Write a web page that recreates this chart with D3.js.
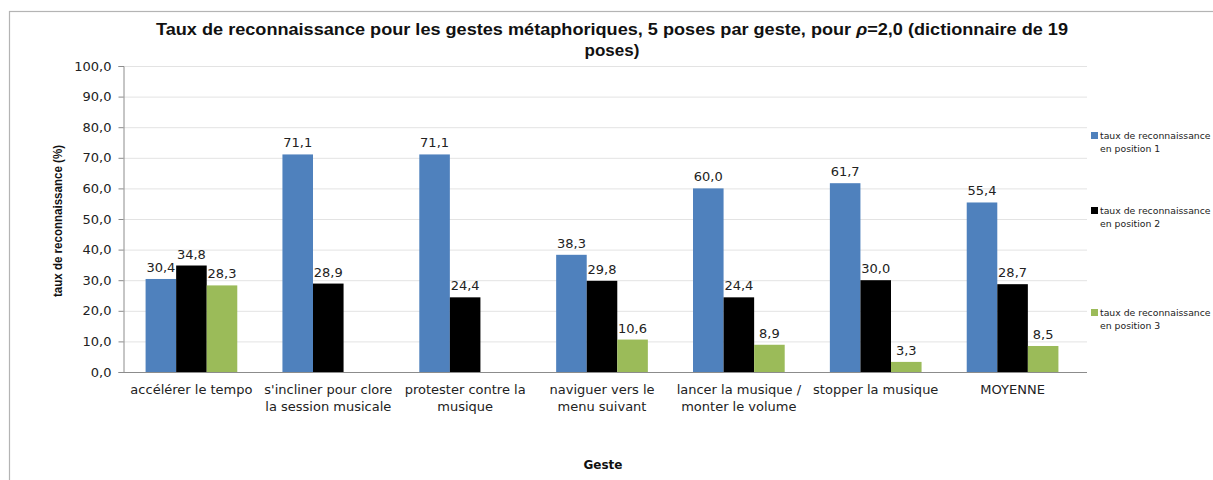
<!DOCTYPE html>
<html><head><meta charset="utf-8">
<script src="https://cdn.jsdelivr.net/npm/d3@7"></script>
<style>body{margin:0;background:#fff}svg{display:block}</style>
</head><body>
<svg id="c" width="1213" height="480"></svg>
<script>
const categories = [
  ["accélérer le tempo"],
  ["s'incliner pour clore", "la session musicale"],
  ["protester contre la", "musique"],
  ["naviguer vers le", "menu suivant"],
  ["lancer la musique /", "monter le volume"],
  ["stopper la musique"],
  ["MOYENNE"]
];
const seriesNames = ["taux de reconnaissance en position 1", "taux de reconnaissance en position 2", "taux de reconnaissance en position 3"];
const pos1 = [30.4, 71.1, 71.1, 38.3, 60.0, 61.7, 55.4];
const pos2 = [34.8, 28.9, 24.4, 29.8, 24.4, 30.0, 28.7];
const pos3 = [28.3, null, null, 10.6, 8.9, 3.3, 8.5];
const yTicks = [0,10,20,30,40,50,60,70,80,90,100];
const colors = ["#4F81BD", "#000000", "#9BBB59"];

const svg = d3.select("#c");
const fmt = v => v.toFixed(1).replace(".", ",");
const series = [pos1, pos2, pos3];

// frame
svg.append("rect").attr("x", 9.5).attr("y", 11.5).attr("width", 1300).attr("height", 600)
  .attr("fill", "none").attr("stroke", "#b4b4b4").attr("stroke-width", 1.2);

const pL = 123, pR = 1081, axisRight = 1087, pT = 66, pB = 372;
const x = d3.scaleBand().domain(d3.range(categories.length)).range([pL, pR]).paddingInner(0.33).paddingOuter(0.165);
const xs = d3.scaleBand().domain([0,1,2]).range([0, x.bandwidth()]);
const y = d3.scaleLinear().domain([0, 100]).range([pB, pT]);

// gridlines
svg.append("g").selectAll("line").data(yTicks.filter(d => d > 0)).join("line")
  .attr("x1", pL).attr("x2", axisRight).attr("y1", d => y(d) + 0.5).attr("y2", d => y(d) + 0.5)
  .attr("stroke", "#e3e3e3").attr("stroke-width", 1);

// y axis
const yAxis = svg.append("g").attr("transform", `translate(${pL + 0.5},0)`)
  .call(d3.axisLeft(y).tickValues(yTicks).tickFormat(fmt).tickSize(5).tickPadding(7));
yAxis.select(".domain").attr("stroke", "#8c8c8c");
yAxis.selectAll(".tick line").attr("stroke", "#8c8c8c");
yAxis.selectAll("text").attr("font-family", "DejaVu Sans, Verdana, sans-serif").attr("font-size", 13).attr("fill", "#222");

// bars
series.forEach((vals, si) => {
  const g = svg.append("g");
  const data = vals.map((v, i) => ({v, i})).filter(d => d.v !== null);
  g.selectAll("rect").data(data).join("rect")
    .attr("x", d => x(d.i) + xs(si)).attr("width", xs.bandwidth())
    .attr("y", d => y(d.v)).attr("height", d => y(0) - y(d.v))
    .attr("fill", colors[si]);
  g.selectAll("text").data(data).join("text")
    .attr("x", d => x(d.i) + xs(si) + xs.bandwidth() / 2).attr("y", d => y(d.v) - 7)
    .attr("text-anchor", "middle").attr("font-family", "DejaVu Sans, Verdana, sans-serif")
    .attr("font-size", 13).attr("fill", "#222").text(d => fmt(d.v));
});

// x axis line
svg.append("line").attr("x1", pL).attr("x2", axisRight).attr("y1", pB + 0.5).attr("y2", pB + 0.5)
  .attr("stroke", "#8c8c8c");

// category labels
const cl = svg.append("g").selectAll("text").data(categories).join("text")
  .attr("text-anchor", "middle").attr("font-family", "DejaVu Sans, Verdana, sans-serif")
  .attr("font-size", 13).attr("fill", "#222")
  .attr("transform", (d, i) => `translate(${x(i) + x.bandwidth() / 2},${pB + 22})`);
cl.selectAll("tspan").data(d => d).join("tspan").attr("x", 0).attr("dy", (d, j) => j === 0 ? 0 : 16.5).text(d => d);

// title
const tf = "'Liberation Sans Narrow', 'Arial Narrow', 'Liberation Sans', sans-serif";
const t1 = svg.append("text").attr("x", 612).attr("y", 35).attr("text-anchor", "middle")
  .attr("font-family", tf).attr("font-weight", "bold").attr("font-size", 17).attr("fill", "#111")
  .attr("textLength", 912).attr("lengthAdjust", "spacingAndGlyphs");
t1.append("tspan").text("Taux de reconnaissance pour les gestes métaphoriques, 5 poses par geste, pour ");
t1.append("tspan").attr("font-style", "italic").text("ρ");
t1.append("tspan").text("=2,0 (dictionnaire de 19");
svg.append("text").attr("x", 612).attr("y", 56).attr("text-anchor", "middle")
  .attr("font-family", tf).attr("font-weight", "bold").attr("font-size", 17).attr("fill", "#111").text("poses)");

// axis titles
svg.append("text").attr("transform", "translate(62,221) rotate(-90)").attr("text-anchor", "middle")
  .attr("font-family", tf).attr("font-weight", "bold").attr("font-size", 12).attr("fill", "#111")
  .attr("textLength", 152).attr("lengthAdjust", "spacingAndGlyphs")
  .text("taux de reconnaissance (%)");
svg.append("text").attr("x", 603).attr("y", 469).attr("text-anchor", "middle")
  .attr("font-family", "DejaVu Sans, Verdana, sans-serif").attr("font-weight", "bold").attr("font-size", 12).attr("fill", "#111")
  .text("Geste");

// legend
const legY = [139, 214, 316];
seriesNames.forEach((name, i) => {
  const g = svg.append("g").attr("transform", `translate(1091,${legY[i]})`);
  g.append("rect").attr("x", 0).attr("y", -7).attr("width", 7).attr("height", 7).attr("fill", colors[i]);
  const parts = ["taux de reconnaissance", name.replace("taux de reconnaissance ", "")];
  g.append("text").attr("font-family", "DejaVu Sans, Verdana, sans-serif").attr("font-size", 9.3).attr("fill", "#222")
    .selectAll("tspan").data(parts).join("tspan").attr("x", 9).attr("dy", (d, j) => j === 0 ? 0 : 13).text(d => d);
});
</script>
</body></html>
